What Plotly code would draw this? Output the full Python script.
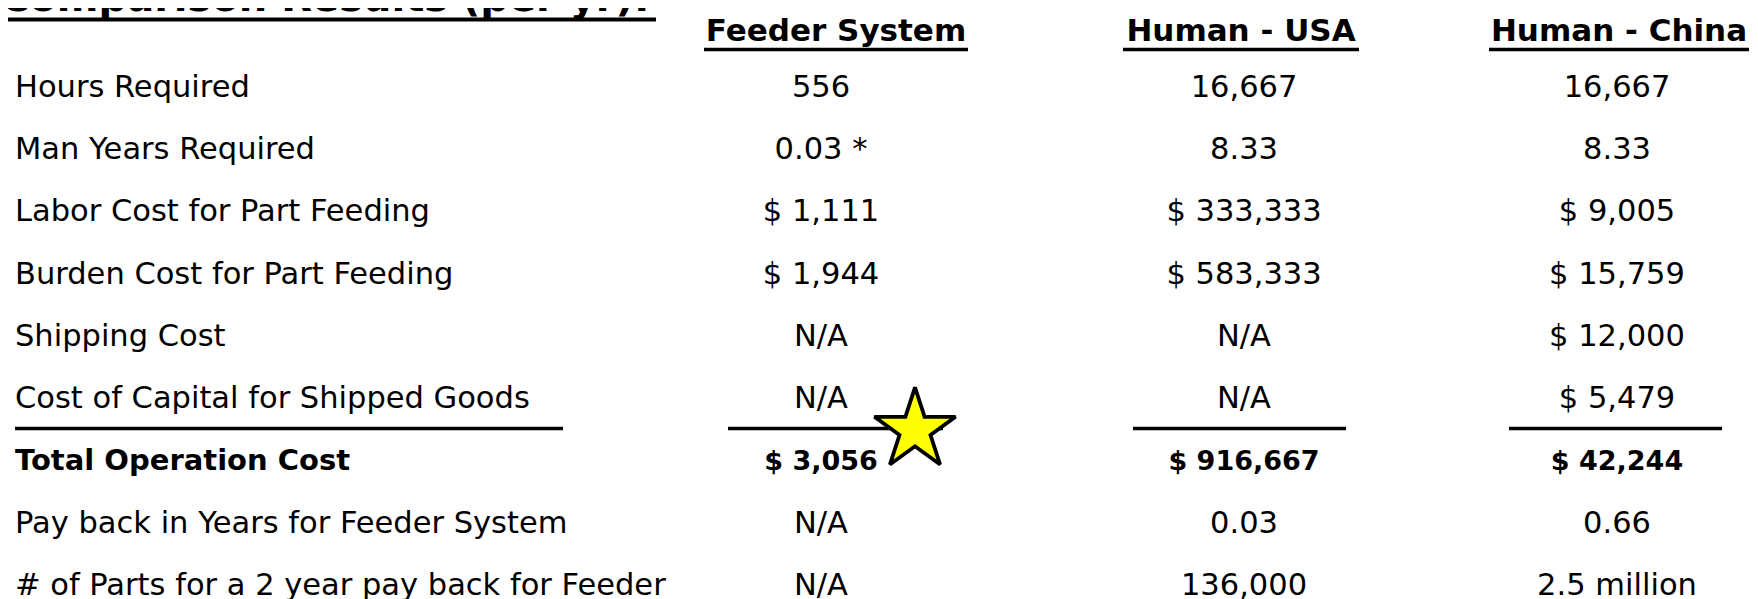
import plotly.graph_objects as go

# ---------------- data ----------------
title_text = "Comparison Results (per yr):"
columns = ["Feeder System", "Human - USA", "Human - China"]
metrics = [
    "Hours Required",
    "Man Years Required",
    "Labor Cost for Part Feeding",
    "Burden Cost for Part Feeding",
    "Shipping Cost",
    "Cost of Capital for Shipped Goods",
    "Total Operation Cost",
    "Pay back in Years for Feeder System",
    "# of Parts for a 2 year pay back for Feeder",
]
feeder_vals = ["556", "0.03 *", "$ 1,111", "$ 1,944", "N/A", "N/A", "$ 3,056", "N/A", "N/A"]
usa_vals = ["16,667", "8.33", "$ 333,333", "$ 583,333", "N/A", "N/A", "$ 916,667", "0.03", "136,000"]
china_vals = ["16,667", "8.33", "$ 9,005", "$ 15,759", "$ 12,000", "$ 5,479", "$ 42,244", "0.66", "2.5 million"]
total_row = "Total Operation Cost"

# ---------------- layout constants ----------------
W, H = 1758, 599
ROW0_PX, ROW_STEP_PX = 81, 62.35
LABEL_X = 7
VAL_X = [813, 1236, 1609]          # value column centres
HEAD_X = [828, 1233, 1611]         # header centres
HEAD_HALF_W = [132, 118, 130]
HEAD_Y_PX = 25
HEAD_LINE_Y_PX = 41.5
SUM_LINE_Y_PX = 420.5
SUM_LINES = [(7, 555), (720, 935), (1125, 1338), (1501, 1714)]
FONT = "DejaVu Sans, sans-serif"
BODY_SIZE = 30.5
LABEL_BOLD_SIZE = 29
VALUE_BOLD_SIZE = 27
HEAD_SIZE = 31
TITLE_SIZE = 40
TITLE_X_PX = -10
TITLE_BOTTOM_PX = 14
TITLE_LINE = (0, 648, 11.5)
STAR_X, STAR_Y_PX, STAR_SIZE = 907, 422, 61


def px_to_row(py):
    return (py - ROW0_PX) / ROW_STEP_PX


rows = list(range(len(metrics)))


def sizes(bold_size):
    return [bold_size if m == total_row else BODY_SIZE for m in metrics]


def fmt(texts):
    return [f"<b>{t}</b>" if m == total_row else t for t, m in zip(texts, metrics)]


fig = go.Figure()

# row labels
fig.add_trace(go.Scatter(
    x=[LABEL_X] * len(metrics), y=rows, mode="text",
    text=fmt(metrics), textposition="middle right",
    textfont=dict(family=FONT, size=sizes(LABEL_BOLD_SIZE), color="black"),
    hoverinfo="skip", showlegend=False, cliponaxis=False,
))

# values per column
for cx, vals in zip(VAL_X, [feeder_vals, usa_vals, china_vals]):
    fig.add_trace(go.Scatter(
        x=[cx] * len(vals), y=rows, mode="text",
        text=fmt(vals), textposition="middle center",
        textfont=dict(family=FONT, size=sizes(VALUE_BOLD_SIZE), color="black"),
        hoverinfo="skip", showlegend=False, cliponaxis=False,
    ))

# column headers
fig.add_trace(go.Scatter(
    x=HEAD_X, y=[px_to_row(HEAD_Y_PX)] * len(columns), mode="text",
    text=[f"<b>{c}</b>" for c in columns], textposition="middle center",
    textfont=dict(family=FONT, size=HEAD_SIZE, color="black"),
    hoverinfo="skip", showlegend=False, cliponaxis=False,
))

# star highlight
fig.add_trace(go.Scatter(
    x=[STAR_X], y=[px_to_row(STAR_Y_PX)], mode="markers",
    marker=dict(symbol="star", size=STAR_SIZE, color="#FFFF00",
                line=dict(color="black", width=3.8)),
    hoverinfo="skip", showlegend=False, cliponaxis=False,
))

# title, cropped at the top edge of the slide
fig.add_annotation(
    xref="paper", yref="paper", x=TITLE_X_PX / W, y=1,
    xanchor="left", yanchor="bottom", yshift=-TITLE_BOTTOM_PX,
    text=f"<b>{title_text}</b>", showarrow=False,
    font=dict(family=FONT, size=TITLE_SIZE, color="black"),
)


def hline(x0, x1, ypx, w):
    fig.add_shape(type="line", x0=x0, x1=x1, y0=px_to_row(ypx), y1=px_to_row(ypx),
                  xref="x", yref="y", line=dict(color="black", width=w), layer="below")


hline(TITLE_LINE[0], TITLE_LINE[1], TITLE_LINE[2], 4)
for cx, hw in zip(HEAD_X, HEAD_HALF_W):
    hline(cx - hw, cx + hw, HEAD_LINE_Y_PX, 3.5)
for x0, x1 in SUM_LINES:
    hline(x0, x1, SUM_LINE_Y_PX, 3.5)

fig.update_xaxes(range=[0, W], visible=False, fixedrange=True)
fig.update_yaxes(range=[px_to_row(H), px_to_row(0)], visible=False, fixedrange=True)
fig.update_layout(
    width=W, height=H, margin=dict(l=0, r=0, t=0, b=0),
    paper_bgcolor="white", plot_bgcolor="white",
)
fig.write_html("out.html")
